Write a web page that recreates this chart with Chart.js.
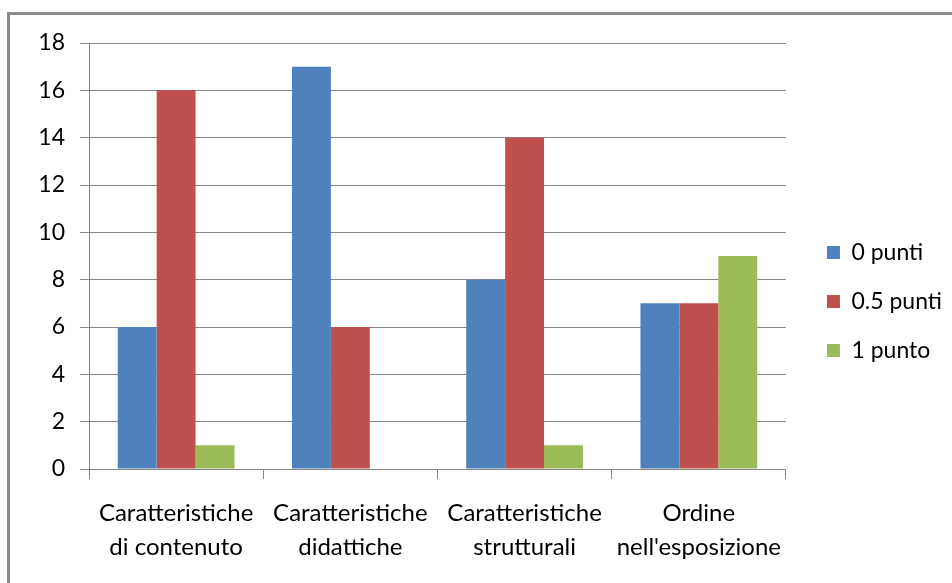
<!DOCTYPE html>
<html>
<head>
<meta charset="utf-8">
<script src="https://cdn.jsdelivr.net/npm/chart.js@4/dist/chart.umd.min.js"></script>
<style>
  body { margin: 0; background: #fff; overflow: hidden; }
  #frame {
    position: absolute; left: 7px; top: 12px; width: 1000px; height: 1000px;
    border-left: 3px solid #8a8a8a; border-top: 3px solid #8a8a8a;
  }
  #wrap { position: absolute; left: 0; top: 0; width: 952px; height: 583px; }
</style>
</head>
<body>
<div id="frame"></div>
<div id="wrap"><canvas id="myChart"></canvas></div>
<script>
      // categorie
      let labels = [
        ["Caratteristiche", "di contenuto"],
        ["Caratteristiche", "didattiche"],
        ["Caratteristiche", "strutturali"],
        ["Ordine", "nell'esposizione"],
      ];
      let series = ["0 punti", "0.5 punti", "1 punto"];
      let punti0 = [6, 17, 8, 7];
      let punti05 = [16, 6, 14, 7];
      let punti1 = [1, 0, 1, 9];
      let yTicks = [0, 2, 4, 6, 8, 10, 12, 14, 16, 18];
      let colors = ["#4F81BD", "#C0504D", "#9BBB59"];

      Chart.defaults.font.family = "Lato";
      Chart.defaults.font.size = 23;
      Chart.defaults.color = "#000";

      let ctx = document.getElementById("myChart").getContext("2d");
      let chart = new Chart(ctx, {
        type: "bar",
        data: {
          labels: labels,
          datasets: [
            { label: series[0], data: punti0, backgroundColor: colors[0] },
            { label: series[1], data: punti05, backgroundColor: colors[1] },
            { label: series[2], data: punti1, backgroundColor: colors[2] },
          ],
        },
        options: {
          responsive: true,
          maintainAspectRatio: false,
          animation: false,
          barPercentage: 1,
          categoryPercentage: 0.67,
          layout: { padding: { top: 5, left: 0, right: 0, bottom: 0 } },
          scales: {
            x: {
              afterFit: function (scale) { scale.height = 114; },
              grid: { drawOnChartArea: false, drawTicks: true, tickLength: 10, color: "#868686", offset: true },
              border: { color: "#868686" },
              ticks: { padding: 17, maxRotation: 0, font: { size: 24, lineHeight: 1.42 } },
            },
            y: {
              min: yTicks[0],
              max: yTicks[yTicks.length - 1],
              afterFit: function (scale) { scale.width = 89; },
              grid: { color: "#868686", tickLength: 9 },
              border: { color: "#868686" },
              ticks: { stepSize: yTicks[1] - yTicks[0], padding: 15 },
            },
          },
          plugins: {
            tooltip: { enabled: false },
            // empty title only keeps the plot top at the right height
            title: {
              display: true,
              text: "",
              font: { size: 10, lineHeight: 1 },
              padding: { top: 0, bottom: 28 },
            },
            legend: {
              position: "right",
              maxWidth: 170,
              labels: {
                boxWidth: 13,
                boxHeight: 13,
                padding: 41,
                font: { size: 23, lineHeight: 0.348 },
                generateLabels: function (chart) {
                  let items = Chart.defaults.plugins.legend.labels.generateLabels(chart);
                  items.forEach(function (item) { item.text = [item.text]; });
                  return items;
                },
              },
            },
          },
        },
      });
</script>
</body>
</html>
